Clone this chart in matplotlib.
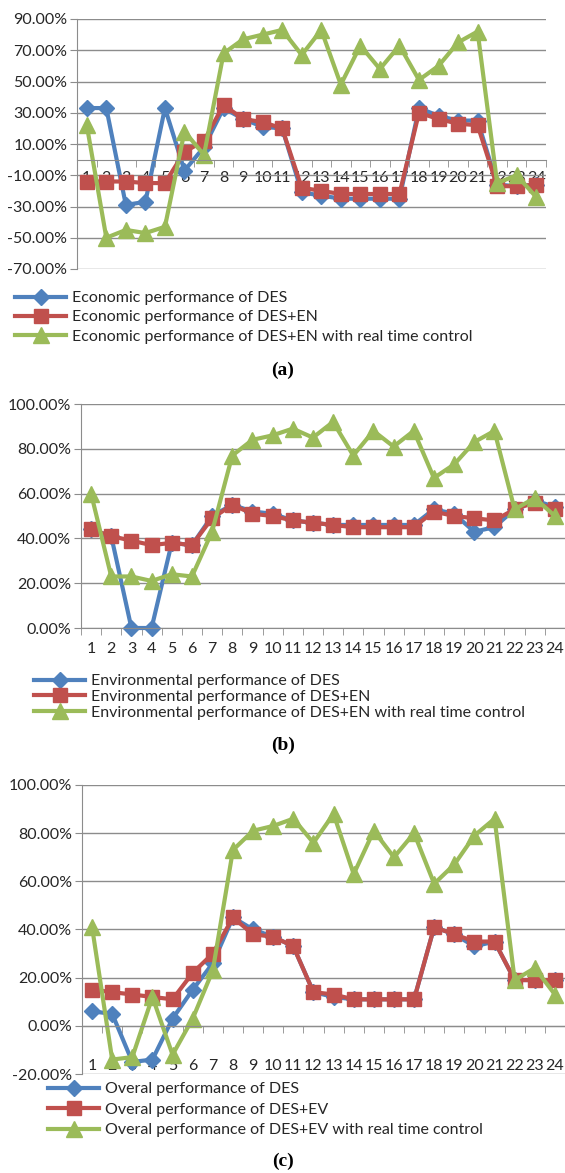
import numpy as np
import matplotlib
matplotlib.use('Agg')
from matplotlib import pyplot as plt

# hours of the day
hours = list(range(1, 25))

# (a) economic performance
eco_des = [33, 33, -29, -27, 33, -7, 8, 33, 26, 21, 20, -21, -23, -25, -25, -25, -25, 33, 28, 25, 25, -16, -17, -16]
eco_den = [-14, -14, -14, -15, -15, 5, 12, 35, 26, 24, 20, -18, -20, -22, -22, -22, -22, 30, 26, 23, 22, -17, -17, -16]
eco_rt = [22, -50, -45, -47, -43, 18, 3, 68, 77, 80, 83, 67, 83, 48, 73, 58, 73, 51, 60, 75, 82, -15, -10, -24]

# (b) environmental performance
env_des = [44, 41, 0, 0, 38, 37, 50, 55, 52, 51, 48, 47, 46, 46, 46, 46, 46, 53, 51, 43, 45, 53, 57, 54]
env_den = [44, 41, 39, 37, 38, 37, 49, 55, 51, 50, 48, 47, 46, 45, 45, 45, 45, 52, 50, 49, 48, 53, 56, 53]
env_rt = [60, 23, 23, 21, 24, 23, 43, 77, 84, 86, 89, 85, 92, 77, 88, 81, 88, 67, 73, 83, 88, 53, 58, 50]

# (c) overall performance
ove_des = [6, 5, -15, -14, 3, 15, 26, 45, 40, 37, 33, 14, 12, 11, 11, 11, 11, 41, 38, 33, 35, 19, 19, 19]
ove_den = [15, 14, 13, 12, 11, 22, 30, 45, 38, 37, 33, 14, 13, 11, 11, 11, 11, 41, 38, 35, 35, 19, 19, 19]
ove_rt = [41, -14, -13, 12, -12, 3, 23, 73, 81, 83, 86, 76, 88, 63, 81, 70, 80, 59, 67, 79, 86, 19, 24, 13]

names_a = ['Economic performance of DES', 'Economic performance of DES+EN',
           'Economic performance of DES+EN with real time control']
names_b = ['Environmental performance of DES', 'Environmental performance of DES+EN',
           'Environmental performance of DES+EN with real time control']
names_c = ['Overal performance of DES', 'Overal performance of DES+EV',
           'Overal performance of DES+EV with real time control']

W, H = 565, 1173
fig = plt.figure(figsize=(W / 100, H / 100), dpi=100)
plt.rcParams['font.family'] = ['Lato', 'DejaVu Sans']

colors = ['#4F81BD', '#C0504D', '#9BBB59']
markers = ['D', 's', '^']
msizes = [8, 10, 11]
grid_c = '#8c8c8c'
txt_c = '#262626'


def px_axes(left, top, right, bottom):
    return fig.add_axes([left / W, 1 - bottom / H, (right - left) / W, (bottom - top) / H])


def panel(box, ylim, series, names, xpad, leg_xy, leg_space, cap, cap_y):
    ax = px_axes(*box)
    x = np.array(hours)
    for y, c, m, ms, nm in zip(series, colors, markers, msizes, names):
        ax.plot(x, y, color=c, lw=3, marker=m, ms=ms, label=nm, clip_on=False)
    ax.set_xlim(0.5, 24.5)
    ax.set_ylim(*ylim)
    ax.set_yticks(np.arange(ylim[0], ylim[1] + 1, 20))
    ax.yaxis.set_major_formatter(lambda v, p: '%.2f%%' % v)
    ax.grid(axis='y', color=grid_c, lw=1)
    ax.set_axisbelow(True)
    for s in ['top', 'right']:
        ax.spines[s].set_visible(False)
    ax.spines['left'].set_color(grid_c)
    ax.spines['bottom'].set_color(grid_c)
    ax.spines['bottom'].set_position(('data', 0))
    ax.set_xticks(x)
    ax.set_xticklabels([str(i) for i in hours])
    ax.set_xticks(np.arange(0.5, 25, 1), minor=True)
    ax.tick_params(axis='x', which='major', length=0, pad=xpad, labelsize=11.5, colors=txt_c)
    ax.tick_params(axis='x', which='minor', length=5, color=grid_c)
    ax.tick_params(axis='y', length=5, pad=2, labelsize=11.5, colors=txt_c, color=grid_c)
    h, l = ax.get_legend_handles_labels()
    fig.legend(h, l, loc='upper left', bbox_to_anchor=(leg_xy[0] / W, 1 - leg_xy[1] / H),
               frameon=False, fontsize=11.5, handlelength=3.2, handletextpad=0.35,
               labelspacing=leg_space, borderpad=0, borderaxespad=0, labelcolor=txt_c)
    fig.text(283 / W, 1 - cap_y / H, cap, ha='center', va='center',
             family='Liberation Serif', weight='bold', fontsize=14)
    return ax


panel((77, 19, 546, 269), (-70, 90), [eco_des, eco_den, eco_rt], names_a,
      8, (15, 291), 0.32, '(a)', 370)
panel((81, 404, 565, 628), (0, 100), [env_des, env_den, env_rt], names_b,
      10, (34, 674), 0.1, '(b)', 745)
panel((82, 785, 565, 1074), (-20, 100), [ove_des, ove_den, ove_rt], names_c,
      24, (48, 1082), 0.4, '(c)', 1161)

fig.savefig('out.png', dpi=100)
